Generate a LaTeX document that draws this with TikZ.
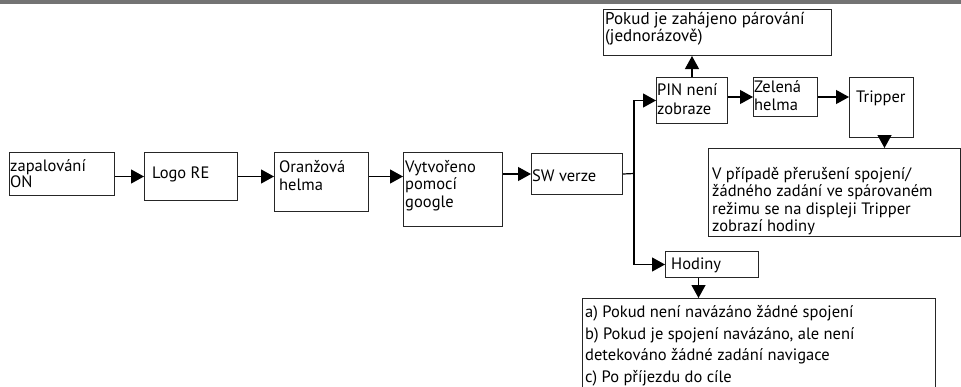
\documentclass[tikz,border=0pt]{standalone}
\usepackage{fontspec}
\setmainfont{PT Sans}
\usetikzlibrary{arrows.meta}
\begin{document}
\begin{tikzpicture}[x=1pt,y=-1pt,
  box/.style={draw=black!85, line width=1pt, inner sep=0pt, anchor=north west, rectangle},
  txt/.style={anchor=north west, inner sep=0pt, align=left, font=\fontsize{16.5}{17.5}\selectfont, execute at begin node={\rule{0pt}{13pt}}},
  arr/.style={line width=1.2pt, -{Triangle[length=13pt,width=14pt]}},
  ln/.style={line width=1.2pt}
]
\clip (0,0) rectangle (961,386);
\fill[black!55] (0,0) rectangle (961,4);
% boxes
\node[box, minimum width=105pt, minimum height=43pt] (zap) at (9,152) {};
\node[box, minimum width=93pt, minimum height=48pt] (logo) at (144,152) {};
\node[box, minimum width=94pt, minimum height=59pt] (oran) at (274,152) {};
\node[box, minimum width=99pt, minimum height=74pt] (vyt) at (403,152) {};
\node[box, minimum width=91pt, minimum height=41pt] (sw) at (531,153) {};
\node[box, minimum width=71pt, minimum height=46pt] (pin) at (656,77) {};
\node[box, minimum width=64pt, minimum height=39pt] (zel) at (753,77) {};
\node[box, minimum width=64pt, minimum height=60pt] (trip) at (849,77) {};
\node[box, minimum width=228pt, minimum height=46pt] (pok) at (603,9) {};
\node[box, minimum width=251.5pt, minimum height=88pt] (vbox) at (708,148) {};
\node[box, minimum width=93pt, minimum height=26pt] (hod) at (665,251) {};
\node[box, minimum width=353pt, minimum height=120pt] (bot) at (582,298) {};
% texts
\node[txt, font=\fontsize{16.5}{16.5}\selectfont] (zapT) at (10,159) {zapalování\\ON};
\node[txt] (logoT) at (152,165) {Logo RE};
\node[txt, font=\fontsize{16.5}{18}\selectfont] (oranT) at (279,160) {Oranžová\\helma};
\node[txt] (vytT) at (405,160) {Vytvořeno\\pomocí\\google};
\node[txt] (swT) at (532,168) {SW verze};
\node[txt, font=\fontsize{16.5}{18.5}\selectfont] (pinT) at (657,83.5) {PIN není\\zobraze};
\node[txt, font=\fontsize{16.5}{18.5}\selectfont] (zelT) at (754,80) {Zelená\\helma};
\node[txt] (tripT) at (856,89) {Tripper};
\node[txt, font=\fontsize{17}{17}\selectfont] (pokT) at (605,12) {Pokud je zahájeno párování\\(jednorázově)};
\node[txt] (vboxT) at (712,167) {V případě přerušení spojení/\\žádného zadání ve spárovaném\\režimu se na displeji Tripper\\zobrazí hodiny};
\node[txt] (hodT) at (671,256.3) {Hodiny};
\node[txt, font=\fontsize{16.5}{21.5}\selectfont] (botT) at (585,305.3) {a) Pokud není navázáno žádné spojení\\b) Pokud je spojení navázáno, ale není\\detekováno žádné zadání navigace\\c) Po příjezdu do cíle};
% connectors
\coordinate (br) at (634,173.5);
\draw[arr] (zap.east |- logo.west) -- (logo.west);
\draw[arr] (logo.east) -- (logo.east -| oran.west);
\draw[arr] (oran.east |- logo.east) -- (vyt.west |- logo.east);
\draw[arr] (vyt.east |- sw.west) -- (sw.west);
\draw[ln] (sw.east) -- (br);
\draw[arr] (br) |- (pin.west);
\draw[arr] (br) |- (hod.west);
\draw[arr] (pin.north) -- (pin.north |- pok.south);
\draw[arr] (pin.east |- zel.west) -- (zel.west);
\draw[arr] (zel.east) -- (zel.east -| trip.west);
\draw[arr] ([xshift=3pt]trip.south) -- ([xshift=3pt]trip.south |- vbox.north);
\draw[arr] ([xshift=-13.5pt]hod.south) -- ([xshift=-13.5pt]hod.south |- bot.north);
\end{tikzpicture}
\end{document}
